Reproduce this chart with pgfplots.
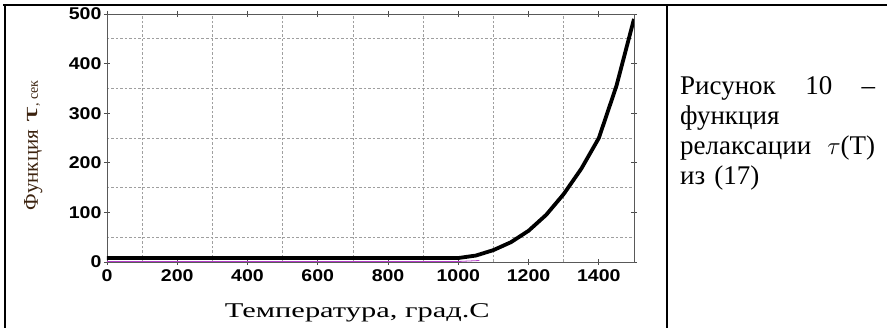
\documentclass[border=0pt]{standalone}
\usepackage{fontspec}
\usepackage{graphicx}
\usepackage{pgfplots}
\pgfplotsset{compat=1.18}
\setmainfont{Liberation Serif}
\newfontfamily\tickfont{Liberation Sans}[FakeStretch=1.15]
\newfontfamily\labfont{Liberation Serif}[FakeStretch=1.45]
\newfontfamily\capfont{Liberation Serif}[FakeStretch=1.0]
\definecolor{magline}{RGB}{180,60,200}
\definecolor{ylab}{RGB}{60,35,15}
\begin{document}
\begin{tikzpicture}[x=1pt,y=1pt]
\path[use as bounding box] (0,0) rectangle (887,328);
\draw[line width=2pt] (3,322.5) -- (887,322.5);
\draw[line width=2pt] (4.5,0) -- (4.5,323.5);
\draw[line width=2pt] (667,0) -- (667,323.5);
\begin{axis}[
  at={(107pt,66pt)}, anchor=south west,
  width=527pt, height=248pt, scale only axis,
  xmin=0, xmax=1500, ymin=0, ymax=500,
  xtick={0,200,...,1400}, ytick={0,100,...,500},
  minor xtick={100,300,...,1500}, minor ytick={50,150,...,450},
  grid=minor,
  minor grid style={gray!75, line width=0.6pt, dash pattern=on 2.5pt off 2pt},
  axis line style={gray!70!black, line width=0.9pt},
  major tick style={gray!60!black, line width=0.8pt},
  minor tick length=0pt, major tick length=6pt, tick align=center,
  /pgf/number format/assume math mode=true,
  /pgf/number format/1000 sep={},
  ticklabel style={font=\tickfont\bfseries\fontsize{17}{17}\selectfont, text=black},
  xticklabel style={yshift=-1pt},
  yticklabel style={xshift=1pt},
  xlabel={Температура, град.С},
  xlabel style={font=\labfont\fontsize{21}{21}\selectfont, at={(axis description cs:0.475,0)}, anchor=base, yshift=-56pt},
  ylabel={{\fontsize{21}{21}\selectfont Функция}\hspace{7pt}{\fontsize{22}{22}\selectfont\scalebox{1.8}[1]{τ}}{\fontsize{14}{14}\selectfont, сек}},
  ylabel style={at={(axis description cs:-0.140,0.47)}, anchor=center, text=ylab},
]
\addplot[color=magline, line width=0.8pt] coordinates {(0,1) (1000,1) (1060,3)};
\addplot[black, line width=3.8pt] coordinates {(0,8) (1000,8) (1050,13) (1100,24) (1150,40) (1200,63) (1250,95) (1300,137) (1350,188) (1400,250) (1450,355) (1500,490)};
\end{axis}
\node[anchor=north west, inner sep=0pt, text width=195pt, align=left, font=\capfont\fontsize{27}{30}\selectfont] at (680,252)
  {\makebox[195pt][s]{Рисунок\hfill 10\hfill –}\\функция\\\makebox[195pt][s]{релаксации\hfill$\tau$(T)}\\из (17)};
\end{tikzpicture}
\end{document}
